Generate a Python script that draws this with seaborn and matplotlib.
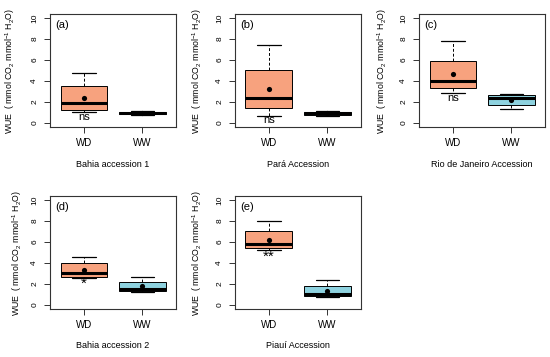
import numpy as np
import pandas as pd
import matplotlib
matplotlib.use("Agg")
import matplotlib.pyplot as plt
import seaborn as sns

# ---- data ----
groups = ["WD", "WW"]
panel_letters = ["(a)", "(b)", "(c)", "(d)", "(e)"]
panel_names = ["Bahia accession 1", "Pará Accession", "Rio de Janeiro Accession",
               "Bahia accession 2", "Piauí Accession"]
# five-number summaries: [lower whisker, Q1, median, Q3, upper whisker]
wd_a = [1.0, 1.19, 1.89, 3.54, 4.76]
ww_a = [0.72, 0.80, 0.93, 1.07, 1.10]
wd_b = [0.65, 1.39, 2.39, 5.02, 7.48]
ww_b = [0.65, 0.78, 0.95, 1.07, 1.12]
wd_c = [2.88, 3.31, 3.98, 5.95, 7.85]
ww_c = [1.35, 1.74, 2.37, 2.67, 2.77]
wd_d = [2.60, 2.65, 3.00, 3.97, 4.58]
ww_d = [1.25, 1.30, 1.52, 2.20, 2.63]
wd_e = [5.20, 5.42, 5.83, 7.02, 7.98]
ww_e = [0.78, 0.82, 1.03, 1.80, 2.37]
means_wd = [2.38, 3.23, 4.67, 3.30, 6.22]
means_ww = [0.93, 0.97, 2.22, 1.76, 1.32]
signif = ["ns", "ns", "ns", "*", "**"]
signif_y = [0.55, 0.26, 2.38, 2.28, 4.87]

wd_all = [wd_a, wd_b, wd_c, wd_d, wd_e]
ww_all = [ww_a, ww_b, ww_c, ww_d, ww_e]

# ---- style ----
sns.set_style("ticks")
plt.rcParams["font.family"] = ["Liberation Sans", "DejaVu Sans"]
plt.rcParams["mathtext.fontset"] = "custom"
plt.rcParams["mathtext.rm"] = "Liberation Sans"
plt.rcParams["mathtext.default"] = "regular"
plt.rcParams["text.color"] = "black"
plt.rcParams["axes.labelcolor"] = "black"
plt.rcParams["xtick.color"] = "black"
plt.rcParams["ytick.color"] = "black"

palette = {"WD": "#F7A27E", "WW": "#8ED2DF"}

W, H = 550, 357
fig = plt.figure(figsize=(5.5, 3.57), dpi=100)

# axes boxes in pixels: left, top, width, height
boxes = [(50, 14, 126, 113), (235, 14, 126, 113), (419, 14, 126, 113),
         (50, 196, 126, 113), (235, 196, 126, 113)]
ylab_x = [-0.317, -0.30, -0.29, -0.26, -0.30]

ylabel = r"WUE  ( mmol CO$_2$ mmol$^{-1}$ H$_2$O)"

for i in range(5):
    l, t, w, h = boxes[i]
    ax = fig.add_axes([l / W, 1 - (t + h) / H, w / W, h / H])
    df = pd.DataFrame({
        "group": ["WD"] * 5 + ["WW"] * 5,
        "wue": list(wd_all[i]) + list(ww_all[i]),
    })
    sns.boxplot(data=df, x="group", y="wue", hue="group", palette=palette,
                order=groups, hue_order=groups, legend=False, whis=np.inf,
                width=0.8, saturation=1, linecolor="black", linewidth=0.7,
                ax=ax,
                whiskerprops={"linestyle": (0, (3, 2)), "linewidth": 0.7},
                capprops={"linewidth": 0.9},
                medianprops={"linewidth": 2.2, "color": "black"},
                showfliers=False)
    mdf = pd.DataFrame({"group": groups, "mean": [means_wd[i], means_ww[i]]})
    sns.scatterplot(data=mdf, x="group", y="mean", color="black", s=14,
                    edgecolor="black", linewidth=0, zorder=5, ax=ax)

    is_star = "*" in signif[i]
    ax.text(0, signif_y[i] - (0.3 if is_star else 0), signif[i],
            ha="center", va="center",
            fontsize=11 if is_star else 8, zorder=6)
    ax.text(0.045, 0.945, panel_letters[i], transform=ax.transAxes,
            ha="left", va="top", fontsize=8)

    ax.set_xlim(-0.58, 1.58)
    ax.set_ylim(-0.4, 10.4)
    ax.set_yticks([0, 2, 4, 6, 8, 10])
    ax.set_yticklabels(["0", "2", "4", "6", "8", "10"], rotation=90,
                       va="center", fontsize=6)
    ax.set_xticks([0, 1])
    ax.set_xticklabels(groups, fontsize=7)
    ax.tick_params(axis="both", direction="out", length=4, width=0.7,
                   color="#333333")
    ax.tick_params(axis="y", pad=4.5)
    ax.tick_params(axis="x", pad=4)
    for s in ax.spines.values():
        s.set_visible(True)
        s.set_linewidth(0.8)
        s.set_color("#333333")

    ax.set_xlabel(panel_names[i], fontsize=6.5)
    ax.xaxis.label.set_va("center")
    ax.xaxis.set_label_coords(0.5, -37 / 113)
    ax.set_ylabel(ylabel, fontsize=6.3)
    ax.yaxis.label.set_va("center")
    ax.yaxis.set_label_coords(ylab_x[i], 0.5)

fig.savefig("out.png", dpi=100)
